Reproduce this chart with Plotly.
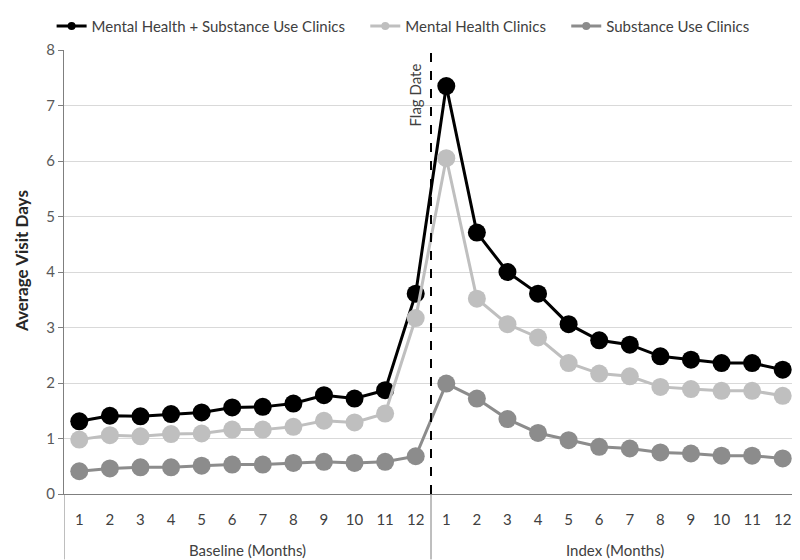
import plotly.graph_objects as go

months = [str(m) for m in range(1, 13)]
periods = ["Baseline (Months)", "Index (Months)"]

mh_su = [1.31, 1.41, 1.40, 1.44, 1.47, 1.56, 1.57, 1.63, 1.78, 1.72, 1.87, 3.61,
         7.35, 4.71, 4.00, 3.61, 3.06, 2.77, 2.69, 2.48, 2.42, 2.36, 2.36, 2.24]
mh = [0.98, 1.06, 1.04, 1.08, 1.09, 1.16, 1.16, 1.21, 1.32, 1.29, 1.45, 3.17,
      6.05, 3.52, 3.06, 2.82, 2.36, 2.17, 2.12, 1.93, 1.89, 1.86, 1.86, 1.77]
su = [0.41, 0.46, 0.48, 0.48, 0.51, 0.53, 0.53, 0.56, 0.58, 0.56, 0.58, 0.68,
      1.99, 1.72, 1.35, 1.10, 0.97, 0.85, 0.82, 0.75, 0.73, 0.69, 0.69, 0.64]

series = [
    ("Mental Health + Substance Use Clinics", mh_su, "#000000"),
    ("Mental Health Clinics", mh, "#bfbfbf"),
    ("Substance Use Clinics", su, "#8c8c8c"),
]

n_m = len(months)
xpos = list(range(1, n_m * len(periods) + 1))
ticktext = months * len(periods)

fig = go.Figure()
for name, vals, col in series:
    fig.add_trace(go.Scatter(
        x=xpos, y=vals, name=name, mode="lines+markers", showlegend=False,
        line=dict(color=col, width=3), marker=dict(color=col, size=18),
    ))
# legend-only entries with small markers
pad = "\u00a0" * 4
for i, (name, vals, col) in enumerate(series):
    label = name + (pad if i < len(series) - 1 else "")
    fig.add_trace(go.Scatter(
        x=[None], y=[None], name=label, mode="lines+markers", showlegend=True,
        line=dict(color=col, width=3), marker=dict(color=col, size=8),
    ))

font = "Lato"
PH = 448  # plot height in px
fig.update_layout(
    width=792, height=552,
    margin=dict(l=56, r=2, t=38, b=66),
    paper_bgcolor="white", plot_bgcolor="white",
    font=dict(family=font, size=15, color="#404040"),
    legend=dict(orientation="h", x=0.462, xanchor="center",
                y=1 + 24 / PH, yanchor="middle",
                font=dict(size=15, color="#404040"), itemwidth=30,
                traceorder="normal"),
    yaxis=dict(range=[0, 8], dtick=1, showgrid=True, gridcolor="#d9d9d9", gridwidth=1,
               showline=True, linecolor="#7f7f7f", linewidth=1,
               ticks="outside", ticklen=5, tickcolor="#7f7f7f",
               tickfont=dict(size=15, color="#595959"), zeroline=False,
               automargin=False),
    xaxis=dict(range=[0.5, len(xpos) + 0.5], tickvals=xpos, ticktext=ticktext,
               showline=True, linecolor="#7f7f7f", linewidth=1,
               tickfont=dict(size=15, color="#404040"), ticks="", showgrid=False,
               zeroline=False, automargin=False, ticklabelstandoff=12),
)

# y-axis title
fig.add_annotation(xref="paper", yref="paper", x=0, y=0.5, xshift=-43, yshift=11,
                   xanchor="center", yanchor="middle",
                   text="<b>Average Visit Days</b>", textangle=-90, showarrow=False,
                   font=dict(size=17, color="#262626"))

# group dividers and labels
for k in range(len(periods) + 1):
    xb = k * n_m + 0.5
    fig.add_shape(type="line", xref="x", yref="paper", x0=xb, x1=xb,
                  y0=0, y1=-66 / PH, line=dict(color="#7f7f7f", width=1))
for k, p in enumerate(periods):
    fig.add_annotation(xref="x", yref="paper", x=k * n_m + (n_m + 1) / 2, y=-56 / PH,
                       text=p, showarrow=False, yanchor="middle",
                       font=dict(size=15, color="#404040"))

# flag date line
fig.add_shape(type="line", xref="x", yref="y", x0=n_m + 0.5, x1=n_m + 0.5, y0=0, y1=8,
              line=dict(color="#000000", width=2, dash="dash"))
fig.add_annotation(x=n_m + 0.5, y=8, xref="x", yref="y", text="Flag Date", showarrow=False,
                   textangle=-90, xanchor="right", yanchor="top", xshift=-6, yshift=-12,
                   font=dict(size=15, color="#404040"))

fig.write_html("out.html")
